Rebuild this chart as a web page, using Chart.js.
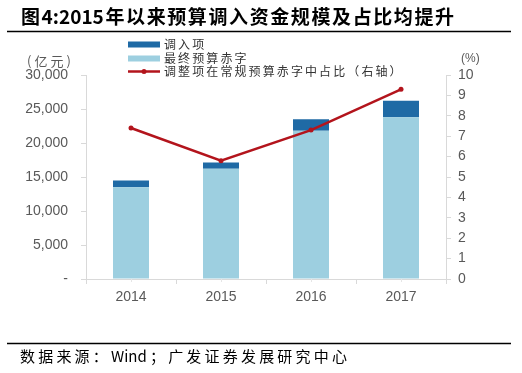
<!DOCTYPE html>
<html>
<head>
<meta charset="utf-8">
<script src="https://cdn.jsdelivr.net/npm/chart.js@4/dist/chart.umd.min.js"></script>
<style>
html,body{margin:0;padding:0;background:#fff;}
canvas{display:block;}
</style>
</head>
<body>
<canvas id="c" width="522" height="373"></canvas>
<script>
const categories = ['2014', '2015', '2016', '2017'];
const finalDeficit = [13500, 16200, 21800, 23800];   // 最终预算赤字 (亿元)
const transferIn = [1000, 950, 1700, 2400];          // 调入项 (亿元)
const sharePct = [7.4, 5.8, 7.3, 9.3];               // 调整项在常规预算赤字中占比 (%)
const leftTicks = [0, 5000, 10000, 15000, 20000, 25000, 30000];
const rightTicks = [0, 1, 2, 3, 4, 5, 6, 7, 8, 9, 10];

const titleText = '图4:2015年以来预算调入资金规模及占比均提升';
const footerText = '数据来源：Wind；广发证券发展研究中心';
const leftUnit = '(亿元)';
const rightUnit = '(%)';

const DARK = '#1f6aa5';
const LIGHT = '#9dcfe0';
const RED = '#b3141c';
const AXIS = '#d9d9d9';
const TICKTXT = '#595959';
const NUMFONT = "'Liberation Sans',Arial,sans-serif";
const CJK = "'Noto Sans CJK SC','Noto Sans',sans-serif";

// draws text with extra spacing only after non-ASCII characters
function spacedText(ctx, text, x, y, sp) {
  let cx = x;
  const chars = [...text];
  chars.forEach((ch, i) => {
    ctx.fillText(ch, cx, y);
    cx += ctx.measureText(ch).width;
    const next = chars[i + 1];
    const asciiPair = next && ch.charCodeAt(0) < 128 && next.charCodeAt(0) < 128;
    if (!asciiPair) cx += sp;
  });
}

const decor = {
  id: 'decor',
  afterDraw(chart) {
    const ctx = chart.ctx;
    ctx.save();
    ctx.textBaseline = 'middle';
    ctx.textAlign = 'left';
    // title
    ctx.fillStyle = '#000';
    ctx.font = "bold 19px " + CJK;
    spacedText(ctx, titleText, 21, 17, 1.6);
    // rules
    ctx.strokeStyle = '#000';
    ctx.lineWidth = 1.5;
    ctx.beginPath();
    ctx.moveTo(7, 31.5); ctx.lineTo(511, 31.5);
    ctx.moveTo(7, 343.5); ctx.lineTo(511, 343.5);
    ctx.stroke();
    // footer
    ctx.font = "15px " + CJK;
    ctx.fillStyle = '#000';
    spacedText(ctx, footerText, 20, 356, 3.2);
    // units
    ctx.fillStyle = TICKTXT;
    ctx.font = "13px " + CJK;
    spacedText(ctx, leftUnit, 27, 61, 3);
    ctx.font = "12px " + NUMFONT;
    ctx.fillText(rightUnit, 461, 59);
    // legend
    const ds = chart.data.datasets;
    const rows = [
      {d: ds[1], y: 44.5},
      {d: ds[0], y: 58.5},
      {d: ds[2], y: 71.5}
    ];
    ctx.font = "12px " + CJK;
    for (const r of rows) {
      if (r.d.type === 'line') {
        ctx.strokeStyle = r.d.borderColor;
        ctx.lineWidth = 2.5;
        ctx.beginPath();
        ctx.moveTo(128, r.y); ctx.lineTo(160, r.y);
        ctx.stroke();
        ctx.fillStyle = r.d.borderColor;
        ctx.beginPath(); ctx.arc(144, r.y, 2.5, 0, Math.PI * 2); ctx.fill();
      } else {
        ctx.fillStyle = r.d.backgroundColor;
        ctx.fillRect(128, r.y - 3, 32, 6);
      }
      ctx.fillStyle = '#333';
      spacedText(ctx, r.d.label, 164, r.y, 2.1);
    }
    // minor ticks at category centres
    const xs = chart.scales.x;
    ctx.strokeStyle = '#e6e6e6';
    ctx.lineWidth = 1;
    ctx.beginPath();
    categories.forEach((c, i) => {
      const px = Math.round(xs.getPixelForValue(i)) + 0.5;
      ctx.moveTo(px, xs.top); ctx.lineTo(px, xs.top + 3);
    });
    ctx.stroke();
    ctx.restore();
  }
};

new Chart(document.getElementById('c'), {
  data: {
    labels: categories,
    datasets: [
      {
        type: 'bar', label: '最终预算赤字', data: finalDeficit,
        backgroundColor: LIGHT, yAxisID: 'y', stack: 's', order: 2,
        barPercentage: 0.4, categoryPercentage: 1
      },
      {
        type: 'bar', label: '调入项', data: transferIn,
        backgroundColor: DARK, yAxisID: 'y', stack: 's', order: 2,
        barPercentage: 0.4, categoryPercentage: 1
      },
      {
        type: 'line', label: '调整项在常规预算赤字中占比（右轴）', data: sharePct,
        borderColor: RED, backgroundColor: RED, borderWidth: 2.5,
        pointRadius: 2.5, pointBackgroundColor: RED, pointBorderWidth: 0,
        yAxisID: 'y1', order: 0, tension: 0
      }
    ]
  },
  options: {
    responsive: false,
    animation: false,
    layout: {padding: {top: 75, left: 0, right: 0, bottom: 0}},
    plugins: {legend: {display: false}, title: {display: false}, tooltip: {enabled: false}},
    scales: {
      x: {
        stacked: true,
        grid: {drawOnChartArea: false, drawTicks: true, tickLength: 5, color: AXIS, offset: true},
        border: {color: AXIS, width: 1},
        ticks: {color: TICKTXT, font: {family: NUMFONT, size: 14}, padding: 5, maxRotation: 0},
        afterFit(s) { s.height = 94; }
      },
      y: {
        position: 'left', stacked: true, min: 0, max: 30000,
        afterBuildTicks(s) { s.ticks = leftTicks.map(v => ({value: v})); },
        grid: {drawOnChartArea: false, drawTicks: true, tickLength: 5, color: AXIS},
        border: {color: AXIS, width: 1},
        ticks: {
          color: TICKTXT, font: {family: NUMFONT, size: 14}, padding: 13, autoSkip: false,
          callback: v => v === 0 ? '-' : v.toLocaleString('en-US')
        },
        afterFit(s) { s.width = 86; }
      },
      y1: {
        position: 'right', min: 0, max: 10,
        afterBuildTicks(s) { s.ticks = rightTicks.map(v => ({value: v})); },
        grid: {drawOnChartArea: false, drawTicks: true, tickLength: 5, color: AXIS},
        border: {color: AXIS, width: 1},
        ticks: {color: TICKTXT, font: {family: NUMFONT, size: 14}, padding: 7, autoSkip: false},
        afterFit(s) { s.width = 76; }
      }
    }
  },
  plugins: [decor]
});
</script>
</body>
</html>
